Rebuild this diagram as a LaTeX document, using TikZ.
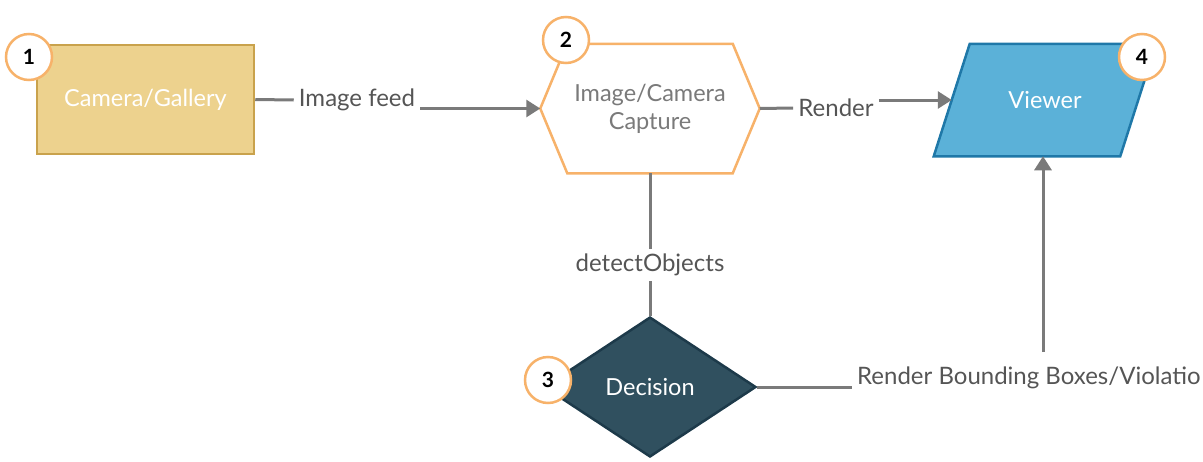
\documentclass[tikz,border=0pt]{standalone}
\usepackage{fontspec}
\setmainfont{Lato}
\usetikzlibrary{positioning, shapes.geometric, arrows.meta, calc, backgrounds}
\definecolor{mygold}{HTML}{EDD28E}
\definecolor{mygolddark}{HTML}{C9A24C}
\definecolor{myorange}{HTML}{F7B26A}
\definecolor{myblue}{HTML}{5BB1D8}
\definecolor{mybluedark}{HTML}{1F78A8}
\definecolor{mydark}{HTML}{30505F}
\definecolor{mydarkline}{HTML}{1D3A4A}
\definecolor{mygray}{HTML}{7A7A7A}
\definecolor{mygraytext}{HTML}{555555}
\tikzset{
	defaultnode/.style={
			draw,
			line width=2.5pt,
			inner sep=0pt,
			align=center,
			text=white,
			font=\fontsize{23.5}{28}\selectfont
		},
	sourcenode/.style={
			defaultnode,
			rectangle,
			draw=mygolddark,
			fill=mygold,
			minimum width=217pt,
			minimum height=109pt
		},
	capturenode/.style={
			defaultnode,
			rectangle,
			draw=none,
			text=mygray,
			minimum width=217pt,
			minimum height=127pt
		},
	viewernode/.style={
			defaultnode,
			rectangle,
			draw=none,
			minimum width=184pt,
			minimum height=110pt
		},
	decisionnode/.style={
			defaultnode,
			diamond,
			draw=mydarkline,
			fill=mydark,
			minimum width=212pt,
			minimum height=140pt
		},
	numbernode/.style={
			circle,
			draw=myorange,
			fill=white,
			line width=2.5pt,
			minimum size=46pt,
			inner sep=0pt,
			font=\fontsize{21}{24}\selectfont\bfseries
		}
}
\tikzset{
	edgetext/.style={font=\fontsize{24}{28}\selectfont, text=mygraytext, inner sep=5pt},
	flowline/.style={draw=mygray, line width=3pt},
	flowarrow/.style={flowline, -{Triangle[length=14pt,width=17pt]}}
}
\begin{document}
\begin{tikzpicture}[x=1pt, y=-1pt]
        \useasboundingbox (0,0) rectangle (1203,461);

        \node[sourcenode] at (145.5,99.5) (cam) {Camera/Gallery};
        \node[capturenode] at (650,108.5) (capture) {Image/Camera\\Capture};
        \node[viewernode] at (1045,100) (viewer) {Viewer};
        \node[decisionnode] at (650,387) (decision) {Decision};

        % outlines of the hexagon and the parallelogram
        \begin{scope}[on background layer]
          \draw[line width=2.5pt, draw=myorange, fill=white] (capture.west)
            -- ([xshift=27pt]capture.north west) -- ([xshift=-27pt]capture.north east)
            -- (capture.east)
            -- ([xshift=-27pt]capture.south east) -- ([xshift=27pt]capture.south west) -- cycle;
          \draw[line width=2.5pt, draw=mybluedark, fill=myblue]
            ([xshift=-18pt]viewer.south west) -- ([xshift=18pt]viewer.north west)
            -- ([xshift=18pt]viewer.north east) -- ([xshift=-18pt]viewer.south east) -- cycle;
        \end{scope}

        \node[numbernode] at (29,57) (n1) {1};
        \node[numbernode] at (566,40) (n2) {2};
        \node[numbernode] at (548,380) (n3) {3};
        \node[numbernode] at (1142,57) (n4) {4};

        \node[edgetext] at (357,100) (feed) {Image feed};
        \node[edgetext] at (836,108) (render) {Render};
        \node[edgetext] at (650,265) (detect) {detectObjects};
        \node[edgetext, anchor=west] at (852,378) (boxes) {Render Bounding Boxes/Violatio};
        \coordinate (up) at (1043,352);

        \draw[flowline] (cam.east) -- (feed.west);
        \draw[flowarrow] (feed.east |- capture.west) -- (capture.west);
        \draw[flowline] (capture.east) -- (render.west);
        \draw[flowarrow] (render.east |- viewer.west) -- (viewer.west);
        \draw[flowline] (capture.south) -- (detect.north);
        \draw[flowline] (detect.south) -- (decision.north);
        \draw[flowline] (decision.east) -- (decision.east -| boxes.west);
        \draw[flowarrow] (up) -- (up |- viewer.south);
      \end{tikzpicture}
\end{document}
